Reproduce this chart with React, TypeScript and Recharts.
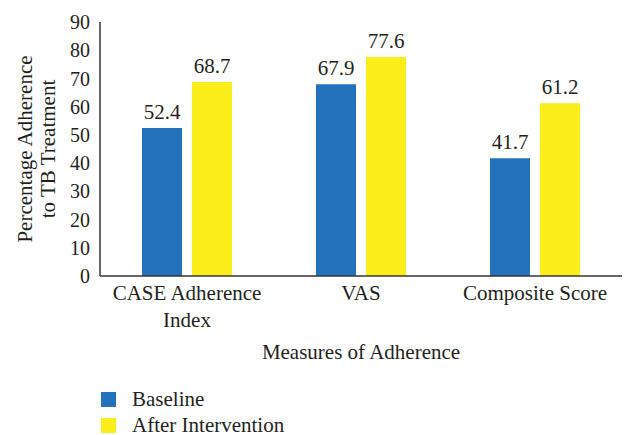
import { Bar, BarChart, LabelList, Legend, XAxis, YAxis } from 'recharts';

const categories = ['CASE Adherence Index', 'VAS', 'Composite Score'];
const baseline = [52.4, 67.9, 41.7];
const afterIntervention = [68.7, 77.6, 61.2];
const yTicks = [0, 10, 20, 30, 40, 50, 60, 70, 80, 90];
const seriesNames = ['Baseline', 'After Intervention'];

const BLUE = '#2472BC';
const YELLOW = '#FCEE1A';
const INK = '#231F20';
const FONT = '"Liberation Serif", "Times New Roman", serif';
const FS = 21;

const data = categories.map((name, i) => ({
  name,
  baseline: baseline[i],
  after: afterIntervention[i],
}));

// greedy word wrap, measured with a canvas
let ctx: CanvasRenderingContext2D | null = null;
const wrap = (label: string, maxWidth: number) => {
  if (!ctx) ctx = document.createElement('canvas').getContext('2d');
  if (ctx) ctx.font = `${FS}px ${FONT}`;
  const measure = (s: string) => (ctx ? ctx.measureText(s).width : s.length * FS * 0.5);
  const lines: string[] = [];
  let cur = '';
  label.split(' ').forEach((w) => {
    const next = cur ? `${cur} ${w}` : w;
    if (cur && measure(next) > maxWidth) {
      lines.push(cur);
      cur = w;
    } else {
      cur = next;
    }
  });
  if (cur) lines.push(cur);
  return lines;
};

const CategoryTick = (props: any) => {
  const { x, y, payload } = props;
  const lines = wrap(String(payload.value), 165);
  return (
    <text x={x} y={y} textAnchor="middle" fill={INK} fontSize={FS} fontFamily={FONT}>
      {lines.map((line, i) => (
        <tspan key={i} x={x} dy={i === 0 ? 15 : 27}>
          {line}
        </tspan>
      ))}
    </text>
  );
};

const YTitle = (props: any) => {
  const { viewBox } = props;
  const cy = viewBox.y + viewBox.height / 2;
  return (
    <text
      transform={`translate(32, ${cy}) rotate(-90)`}
      textAnchor="middle"
      fill={INK}
      fontSize={FS}
      fontFamily={FONT}
    >
      <tspan x={0} dy={0}>Percentage Adherence</tspan>
      <tspan x={0} dy={23}>to TB Treatment</tspan>
    </text>
  );
};

const XTitle = (props: any) => {
  const { viewBox } = props;
  return (
    <text
      x={viewBox.x + viewBox.width / 2}
      y={359}
      textAnchor="middle"
      fill={INK}
      fontSize={FS}
      fontFamily={FONT}
    >
      Measures of Adherence
    </text>
  );
};

const LegendBox = (props: any) => {
  const items = [...(props.payload || [])].sort(
    (a: any, b: any) => seriesNames.indexOf(a.value) - seriesNames.indexOf(b.value)
  );
  return (
    <div style={{ fontFamily: FONT, fontSize: FS, color: INK }}>
      {items.map((entry: any) => (
        <div key={entry.value} style={{ display: 'flex', alignItems: 'center', height: 26 }}>
          <span style={{ width: 15, height: 15, background: entry.color, marginRight: 16 }} />
          <span>{entry.value}</span>
        </div>
      ))}
    </div>
  );
};

export default function App() {
  return (
    <div style={{ position: 'absolute', left: 0, top: 0, background: '#fff' }}>
      <BarChart
        width={624}
        height={435}
        data={data}
        margin={{ top: 22, right: 2, left: 0, bottom: 7 }}
        barGap={10}
        barSize={40}
      >
        <XAxis
          dataKey="name"
          tick={<CategoryTick />}
          tickLine={false}
          tickMargin={3}
          axisLine={{ stroke: '#333', strokeWidth: 1.5 }}
          height={100}
          interval={0}
          label={<XTitle />}
        />
        <YAxis
          domain={[0, 90]}
          ticks={yTicks}
          width={100}
          tickLine={false}
          tickMargin={4}
          interval={0}
          axisLine={{ stroke: '#333', strokeWidth: 1.5 }}
          tick={{ fill: INK, fontSize: 20, fontFamily: FONT }}
          label={<YTitle />}
        />
        <Legend
          layout="horizontal"
          verticalAlign="bottom"
          align="left"
          content={<LegendBox />}
          wrapperStyle={{ left: 101, top: 386, width: 300 }}
        />
        <Bar dataKey="baseline" name="Baseline" fill={BLUE} isAnimationActive={false}>
          <LabelList dataKey="baseline" position="top" offset={9} fill={INK} fontSize={FS} fontFamily={FONT} />
        </Bar>
        <Bar dataKey="after" name="After Intervention" fill={YELLOW} isAnimationActive={false}>
          <LabelList dataKey="after" position="top" offset={9} fill={INK} fontSize={FS} fontFamily={FONT} />
        </Bar>
      </BarChart>
    </div>
  );
}
